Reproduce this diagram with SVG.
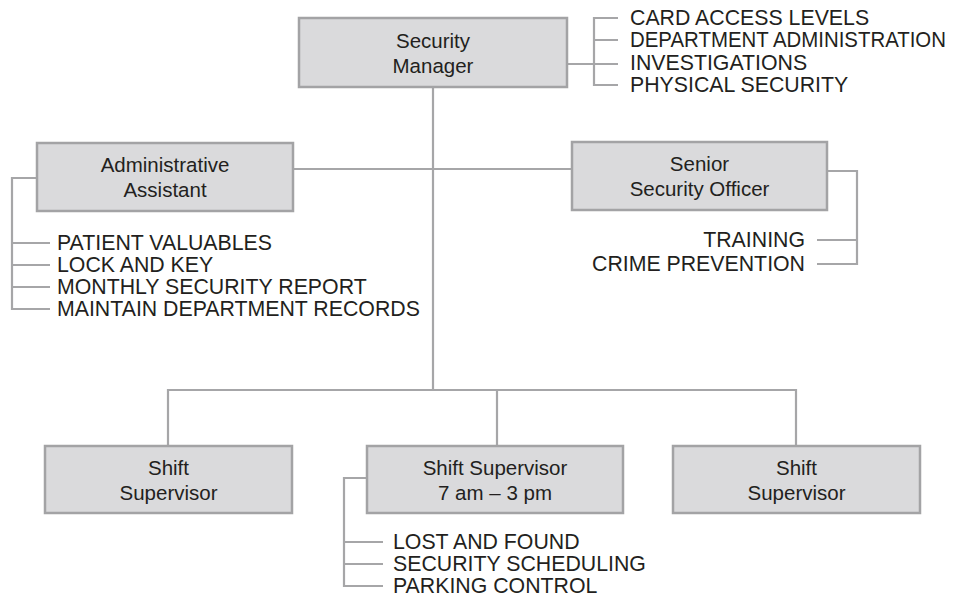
<svg xmlns="http://www.w3.org/2000/svg" width="961" height="598" viewBox="0 0 961 598">
<style>
.box{fill:#dadadc;stroke:#a3a3a5;stroke-width:2.5}
.ln{fill:none;stroke:#a6a6a8;stroke-width:2.2}
.lbl{font-family:"Liberation Sans",Arial,sans-serif;font-size:20.5px;fill:#231f20;text-anchor:middle}
.itm{font-family:"Liberation Sans",Arial,sans-serif;font-size:21.3px;fill:#231f20}
.r{text-anchor:end}
</style>
<rect width="961" height="598" fill="#ffffff"/>
<g id="connectors">
<path class="ln" d="M433 87V390M168 446V390H796V446M497 390V446"/>
<path class="ln" d="M293 169H572"/>
<path class="ln" d="M567 64H618M618 18H594V85H618M594 40H618"/>
<path class="ln" d="M37 178H12V309H50M12 243H50M12 265H50M12 287H50"/>
<path class="ln" d="M827 171H857V264H817M857 240H817"/>
<path class="ln" d="M367 478H344V586H383M344 542H383M344 564H383"/>
</g>
<g id="security-manager">
<rect class="box" x="299" y="18" width="268" height="69"/>
<text class="lbl" x="433" y="47.5">Security</text>
<text class="lbl" x="433" y="72.5">Manager</text>
</g>
<g id="security-manager-duties">
<text class="itm" x="630" y="25">CARD ACCESS LEVELS</text>
<text class="itm" x="630" y="47" textLength="316" lengthAdjust="spacingAndGlyphs">DEPARTMENT ADMINISTRATION</text>
<text class="itm" x="630" y="70">INVESTIGATIONS</text>
<text class="itm" x="630" y="92">PHYSICAL SECURITY</text>
</g>
<g id="administrative-assistant">
<rect class="box" x="37" y="143" width="256" height="68"/>
<text class="lbl" x="165" y="172">Administrative</text>
<text class="lbl" x="165" y="197">Assistant</text>
</g>
<g id="administrative-assistant-duties">
<text class="itm" x="57" y="250">PATIENT VALUABLES</text>
<text class="itm" x="57" y="272">LOCK AND KEY</text>
<text class="itm" x="57" y="294">MONTHLY SECURITY REPORT</text>
<text class="itm" x="57" y="316">MAINTAIN DEPARTMENT RECORDS</text>
</g>
<g id="senior-security-officer">
<rect class="box" x="572" y="142" width="255" height="68"/>
<text class="lbl" x="699.5" y="171">Senior</text>
<text class="lbl" x="699.5" y="196">Security Officer</text>
</g>
<g id="senior-security-officer-duties">
<text class="itm r" x="805" y="247">TRAINING</text>
<text class="itm r" x="805" y="271">CRIME PREVENTION</text>
</g>
<g id="shift-supervisor-1">
<rect class="box" x="45" y="446" width="247" height="67"/>
<text class="lbl" x="168.5" y="474.5">Shift</text>
<text class="lbl" x="168.5" y="499.5">Supervisor</text>
</g>
<g id="shift-supervisor-2">
<rect class="box" x="367" y="446" width="256" height="67"/>
<text class="lbl" x="495" y="474.5">Shift Supervisor</text>
<text class="lbl" x="495" y="499.5">7 am – 3 pm</text>
</g>
<g id="shift-supervisor-2-duties">
<text class="itm" x="393" y="549">LOST AND FOUND</text>
<text class="itm" x="393" y="571">SECURITY SCHEDULING</text>
<text class="itm" x="393" y="593">PARKING CONTROL</text>
</g>
<g id="shift-supervisor-3">
<rect class="box" x="673" y="446" width="247" height="67"/>
<text class="lbl" x="796.5" y="474.5">Shift</text>
<text class="lbl" x="796.5" y="499.5">Supervisor</text>
</g>
</svg>
